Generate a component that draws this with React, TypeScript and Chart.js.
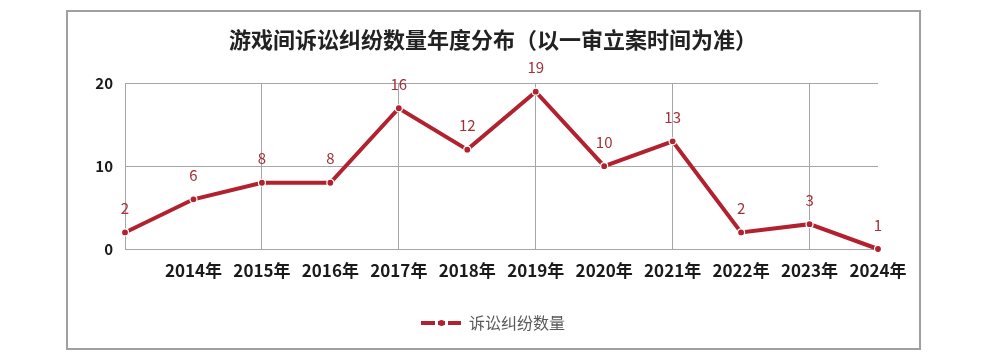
import React, { useEffect, useRef } from "react";
import { Chart, registerables } from "chart.js";

Chart.register(...registerables);

const chartTitle = "游戏间诉讼纠纷数量年度分布（以一审立案时间为准）";
const seriesName = "诉讼纠纷数量";
const categories = ["", "2014年", "2015年", "2016年", "2017年", "2018年", "2019年", "2020年", "2021年", "2022年", "2023年", "2024年"];
const values = [2, 6, 8, 8, 17, 12, 19, 10, 13, 2, 3, 0];
const valueLabels = ["2", "6", "8", "8", "16", "12", "19", "10", "13", "2", "3", "1"];
const yTickValues = [0, 10, 20];

const FONT = '"Noto Sans CJK SC", "Noto Sans", sans-serif';
const RED = "#B2212E";
const LABEL_RED = "#A3303A";
const GRID = "#A6A6A6";

function makeLegendMarker(): HTMLCanvasElement {
  const c = document.createElement("canvas");
  c.width = 40;
  c.height = 8;
  const g = c.getContext("2d")!;
  g.fillStyle = RED;
  g.fillRect(0, 2, 14, 4);
  g.fillRect(17, 2, 7, 4);
  g.beginPath();
  g.arc(20.5, 4, 3, 0, Math.PI * 2);
  g.fill();
  g.fillRect(27, 2, 13, 4);
  return c;
}

const backgroundPlugin = {
  id: "bgBorder",
  beforeDraw(chart: any) {
    const ctx = chart.ctx;
    ctx.save();
    ctx.fillStyle = "#ffffff";
    ctx.fillRect(0, 0, chart.width, chart.height);
    ctx.strokeStyle = "#A0A0A0";
    ctx.lineWidth = 2;
    ctx.strokeRect(67, 11, 853, 338);
    ctx.restore();
  },
};

const dataLabelPlugin = {
  id: "dataLabels",
  afterDatasetsDraw(chart: any) {
    const meta = chart.getDatasetMeta(0);
    const ctx = chart.ctx;
    ctx.save();
    ctx.font = `15px ${FONT}`;
    ctx.fillStyle = LABEL_RED;
    ctx.textAlign = "center";
    ctx.textBaseline = "middle";
    meta.data.forEach((pt: any, i: number) => {
      ctx.fillText(valueLabels[i], pt.x, pt.y - 24);
    });
    ctx.restore();
  },
};

export default function App() {
  const ref = useRef<HTMLCanvasElement>(null);

  useEffect(() => {
    if (!ref.current) return;
    const marker = makeLegendMarker();
    const chart = new Chart(ref.current, {
      type: "line",
      data: {
        labels: categories,
        datasets: [
          {
            label: seriesName,
            data: values,
            borderColor: RED,
            backgroundColor: RED,
            borderWidth: 4,
            pointRadius: 3.5,
            pointBackgroundColor: RED,
            pointBorderColor: "#ffffff",
            pointBorderWidth: 1.2,
            tension: 0,
            clip: false as any,
          },
        ],
      },
      options: {
        responsive: false,
        animation: false,
        layout: { padding: { left: 75, right: 90, top: 0, bottom: 20 } },
        plugins: {
          tooltip: { enabled: false },
          title: {
            display: true,
            text: chartTitle,
            color: "#222222",
            font: { family: FONT, size: 22, weight: "bold" },
            padding: { top: 26, bottom: 31 },
          },
          legend: {
            display: true,
            position: "bottom",
            labels: {
              usePointStyle: true,
              pointStyleWidth: 40,
              color: "#595959",
              font: { family: FONT, size: 16 },
              padding: 10,
              generateLabels: () => [
                {
                  text: seriesName,
                  pointStyle: marker as any,
                  fillStyle: RED,
                  strokeStyle: RED,
                  lineWidth: 0,
                  hidden: false,
                  datasetIndex: 0,
                  fontColor: "#595959",
                } as any,
              ],
            },
          },
        },
        scales: {
          x: {
            type: "category",
            offset: false,
            afterFit: (scale: any) => {
              scale.height = 56;
            },
            grid: {
              drawTicks: false,
              color: (ctx: any) =>
                ctx.index % 2 === 0 && ctx.index < categories.length - 1 ? GRID : "rgba(0,0,0,0)",
              lineWidth: 1,
            },
            border: { display: true, color: GRID, width: 1 },
            ticks: {
              autoSkip: false,
              maxRotation: 0,
              padding: 11,
              color: "#1a1a1a",
              font: { family: FONT, size: 17, weight: "bold" },
            },
          },
          y: {
            min: 0,
            max: 20,
            afterFit: (scale: any) => {
              scale.width = 50;
            },
            afterBuildTicks: (scale: any) => {
              scale.ticks = yTickValues.map((v) => ({ value: v }));
            },
            grid: { drawTicks: false, color: GRID, lineWidth: 1 },
            border: { display: true, color: GRID, width: 1 },
            ticks: {
              padding: 12,
              color: "#1a1a1a",
              font: { family: FONT, size: 15, weight: "bold" },
            },
          },
          ySpacer: {
            type: "linear",
            position: "right",
            min: 0,
            max: 20,
            afterFit: (scale: any) => {
              scale.width = 33;
            },
            grid: { display: false, drawTicks: false },
            border: { display: false },
            ticks: { display: false },
          },
        },
      },
      plugins: [backgroundPlugin, dataLabelPlugin],
    });
    return () => chart.destroy();
  }, []);

  return (
    <div style={{ position: "absolute", left: 0, top: 0, width: 1001, height: 361, background: "#fff" }}>
      <canvas ref={ref} width={1001} height={361} />
    </div>
  );
}
